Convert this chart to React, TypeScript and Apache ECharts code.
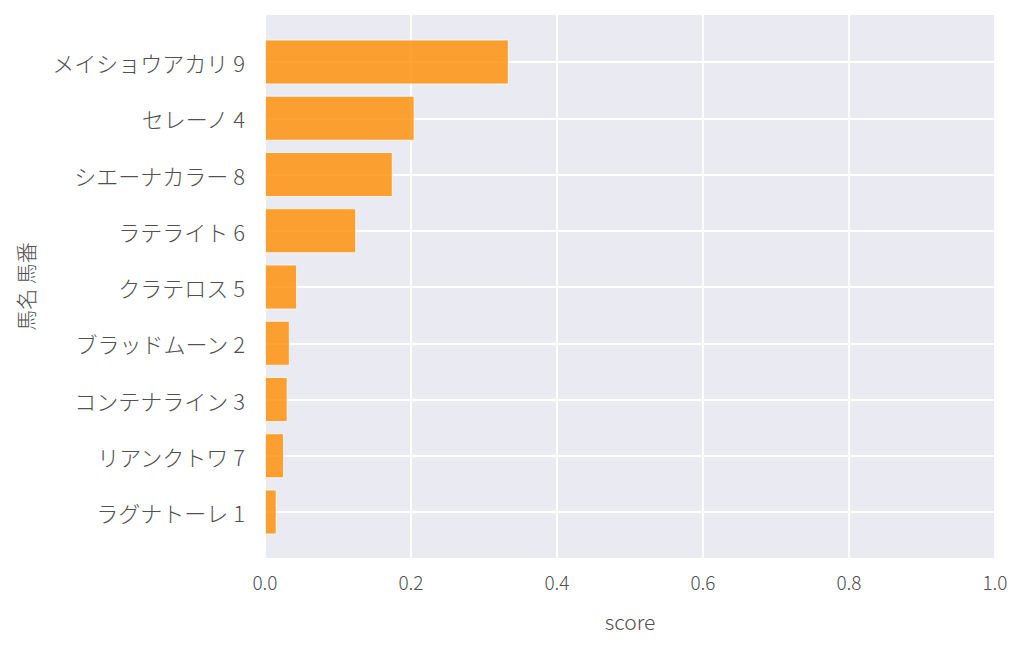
import React, { useEffect, useRef } from "react";
import * as echarts from "echarts";

const horseLabels = [
  "メイショウアカリ 9",
  "セレーノ 4",
  "シエーナカラー 8",
  "ラテライト 6",
  "クラテロス 5",
  "ブラッドムーン 2",
  "コンテナライン 3",
  "リアンクトワ 7",
  "ラグナトーレ 1",
];
const scores = [0.334, 0.205, 0.175, 0.125, 0.044, 0.034, 0.031, 0.026, 0.016];
const xTicks = [0, 0.2, 0.4, 0.6, 0.8, 1.0];
const xAxisTitle = "score";
const yAxisTitle = "馬名 馬番";

const FONT = '"Noto Sans CJK JP", "Noto Sans", sans-serif';
const TEXT_COLOR = "#505050";

export default function App() {
  const ref = useRef<HTMLDivElement>(null);
  useEffect(() => {
    if (!ref.current) return;
    const chart = echarts.init(ref.current, undefined, { renderer: "svg" });
    chart.setOption({
      animation: false,
      backgroundColor: "#ffffff",
      textStyle: { fontFamily: FONT },
      grid: [
        { left: 265, right: 29, top: 15, bottom: 94, show: true, backgroundColor: "#eaeaf2", borderWidth: 0 },
        { left: 265, right: 29, top: 62, bottom: 140, show: false },
      ],
      xAxis: [
        {
          gridIndex: 0,
          type: "value",
          min: xTicks[0],
          max: xTicks[xTicks.length - 1],
          interval: 0.2,
          axisLine: { show: false },
          axisTick: { show: false },
          splitLine: { show: true, lineStyle: { color: "#ffffff", width: 1.8 } },
          axisLabel: {
            margin: 14,
            fontSize: 19,
            fontWeight: 300,
            color: TEXT_COLOR,
            fontFamily: FONT,
            formatter: (v: number) => v.toFixed(1),
          },
          name: xAxisTitle,
          nameLocation: "middle",
          nameGap: 52,
          nameTextStyle: { fontSize: 21, fontWeight: 300, color: TEXT_COLOR, fontFamily: FONT },
        },
        {
          gridIndex: 1,
          type: "value",
          min: 0,
          max: 1,
          show: false,
        },
      ],
      yAxis: [
        {
          gridIndex: 0,
          type: "value",
          min: 0,
          max: 1,
          axisLine: { show: false },
          axisTick: { show: false },
          axisLabel: { show: false },
          splitLine: { show: false },
          name: yAxisTitle,
          nameLocation: "middle",
          nameRotate: 90,
          nameGap: 230,
          nameTextStyle: { fontSize: 21, fontWeight: 300, color: TEXT_COLOR, fontFamily: FONT },
        },
        {
          gridIndex: 1,
          type: "category",
          data: horseLabels,
          inverse: true,
          boundaryGap: false,
          axisLine: { show: false },
          axisTick: { show: false },
          splitLine: { show: true, lineStyle: { color: "#ffffff", width: 1.8 } },
          axisLabel: {
            margin: 20,
            fontSize: 22,
            fontWeight: 300,
            color: TEXT_COLOR,
            fontFamily: FONT,
          },
        },
      ],
      series: [
        {
          type: "bar",
          xAxisIndex: 1,
          yAxisIndex: 1,
          data: scores,
          barWidth: "80%",
          itemStyle: {
            color: "rgba(255,140,0,0.8)",
            borderColor: "rgba(255,255,255,0.8)",
            borderWidth: 1,
          },
        },
      ],
    });
    return () => chart.dispose();
  }, []);
  return <div ref={ref} style={{ width: 1024, height: 652, position: "absolute", left: 0, top: 0 }} />;
}
